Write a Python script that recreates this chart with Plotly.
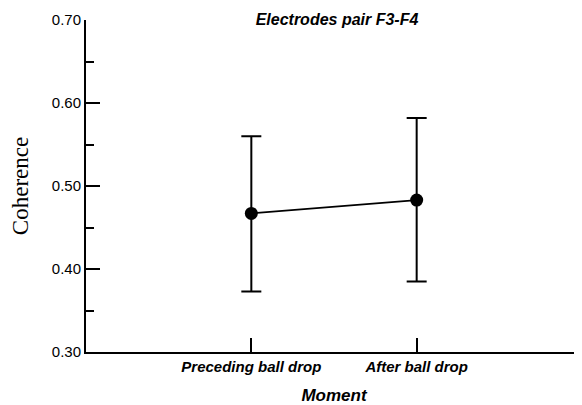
import plotly.graph_objects as go

categories = ["Preceding ball drop", "After ball drop"]
x_pos = [0, 1]
means = [0.467, 0.483]
err_plus = [0.093, 0.099]
err_minus = [0.094, 0.098]
y_ticks = [0.30, 0.40, 0.50, 0.60, 0.70]
y_tick_labels = ["0.30", "0.40", "0.50", "0.60", "0.70"]

# page body has an 8px default margin; compensate so plot area lands at x 86-582, y 20-352
W, H = 574, 397

fig = go.Figure()
fig.add_trace(go.Scatter(
    x=x_pos, y=means, mode="lines+markers",
    line=dict(color="black", width=1.8),
    marker=dict(color="black", size=13),
    error_y=dict(type="data", symmetric=False, array=err_plus, arrayminus=err_minus,
                 color="black", thickness=2, width=10),
    showlegend=False,
))

fig.update_layout(
    width=W, height=H,
    margin=dict(l=78, r=0, t=12, b=53, autoexpand=False),
    paper_bgcolor="white", plot_bgcolor="white",
    font=dict(family="Liberation Sans, Arial", color="black"),
    xaxis=dict(
        range=[-1, 2], tickmode="array", tickvals=x_pos,
        ticktext=[f"<b><i>{c}</i></b>" for c in categories],
        showline=True, linecolor="black", linewidth=2, showgrid=False, zeroline=False,
        ticks="inside", ticklen=14, tickwidth=2, tickcolor="black",
        tickfont=dict(size=15),
        automargin=False,
        title=dict(text="<b><i>Moment</i></b>", font=dict(size=17), standoff=15),
    ),
    yaxis=dict(
        range=[0.30, 0.70], tickmode="array", tickvals=y_ticks, ticktext=y_tick_labels,
        showline=True, linecolor="black", linewidth=2, showgrid=False, zeroline=False,
        ticks="inside", ticklen=14, tickwidth=2, tickcolor="black",
        tickfont=dict(size=15),
        automargin=False,
        minor=dict(ticks="inside", ticklen=8, tickwidth=2, tickcolor="black", dtick=0.05, tick0=0.3),
        title=dict(text="Coherence", font=dict(size=23, family="Liberation Serif, Times New Roman"), standoff=19),
    ),
    title=dict(text="<b><i>Electrodes pair F3-F4</i></b>", font=dict(size=16),
               x=(337 - 8) / W, xanchor="center", y=1 - (19 - 8) / H, yanchor="middle"),
)

fig.write_html("out.html")
